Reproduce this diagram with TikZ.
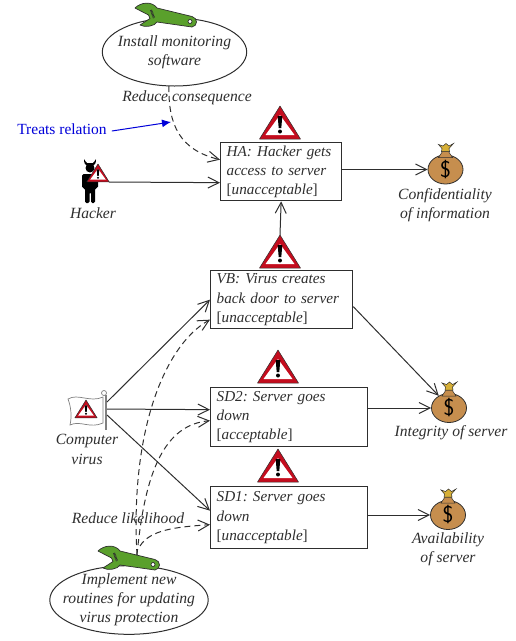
\documentclass[tikz,border=0pt]{standalone}
\usepackage{fontspec}
\setmainfont{Liberation Serif}
\usepackage{tikz}
\usetikzlibrary{arrows.meta}
\usetikzlibrary{positioning}
\usetikzlibrary{shapes.geometric}
\definecolor{inkgray}{HTML}{2E2E2E}
\definecolor{warnred}{HTML}{C40D1E}
\definecolor{bagbrown}{HTML}{C68E4E}
\definecolor{toolgreen}{HTML}{5AA02C}
\tikzset{
  lbl/.style = {font = \fontsize{15.6}{19.2}\selectfont\itshape\frenchspacing, text = inkgray, align = center, inner sep = 0},
  riskbox/.style = {draw = inkgray, line width = 1.3, anchor = north west, lbl, font = \fontsize{15.2}{19.2}\selectfont\itshape\frenchspacing, align = left, inner xsep = 6, inner ysep = 0},
  goalell/.style = {draw = inkgray, line width = 1, shape = ellipse, lbl},
  bagbody/.style = {draw = inkgray, line width = .8, fill = bagbrown, shape = ellipse, inner sep = 0, minimum width = 35, minimum height = 29, font = \sffamily\fontsize{23}{23}\selectfont, text = black},
  arr/.style = {draw = inkgray, line width = 1, -{Straight Barb[length = 11, width = 11]}},
  treat/.style = {arr, dashed, dash pattern = on 6 off 4},
  warnsign/.pic = {
    \fill [warnred, draw = inkgray, line width = .5, line join = round] (0, 0) -- (20.5, 33) -- (-20.5, 33) -- cycle;
    \fill [white] (0, 9) -- (14.5, 29) -- (-14.5, 29) -- cycle;
    \fill [black] (-2.3, 10) -- (2.3, 10) -- (1.3, 22) -- (-1.3, 22) -- cycle;
    \fill [black] (0, 25.5) circle [radius = 2];
  },
  bagtop/.pic = {
    \fill [bagbrown, draw = inkgray, line width = .5] (-7, -12) -- (-3, -18) -- (3, -18) -- (7, -12) -- cycle;
    \fill [bagbrown!70!yellow, draw = inkgray, line width = .5] (-4, -18) -- (4, -18) -- (3.5, -21) -- (8, -26) -- (3.5, -23.5) -- (.5, -26) -- (-2.5, -23.5) -- (-7, -25) -- (-3.5, -21) -- cycle;
  },
  wrench/.pic = {
    \fill [toolgreen, draw = inkgray, line width = .7, line join = round] (-12, -7) .. controls (-6, -13) and (5, -14) .. (10, -7) -- (45, 1.5) .. controls (51, 3) and (51, 11) .. (45, 12) -- (10, 7) .. controls (8, 11) and (-2, 13) .. (-7, 10) -- (3, 3.5) -- (1.5, 0) -- cycle;
    \fill [white, draw = inkgray, line width = .7] (43, 6.5) circle [radius = 2];
    \draw [inkgray, line width = 2.2, dash pattern = on .8 off .6] (4, -5) -- (7, 3);
  }
}
\begin{document}
\begin{tikzpicture}[x = 1pt, y = -1pt]
  \useasboundingbox (0, 0) rectangle (516, 641);

  % boxes
  \node [riskbox, minimum width = 121, minimum height = 58, text width = 109] (haBox) at (220, 142) {HA: Hacker gets\\access to server\\{\upshape[}unacceptable{\upshape]}};
  \node [riskbox, minimum width = 142, minimum height = 58, text width = 130] (vbBox) at (210, 270) {VB: Virus creates\\back door to server\\{\upshape[}unacceptable{\upshape]}};
  \node [riskbox, minimum width = 157, minimum height = 59, text width = 145] (sdTwo) at (210, 387) {SD2: Server goes\\down\\{\upshape[}acceptable{\upshape]}};
  \node [riskbox, minimum width = 157, minimum height = 62, text width = 145] (sdOne) at (210, 486) {SD1: Server goes\\down\\{\upshape[}unacceptable{\upshape]}};

  % warning signs
  \pic at (280, 106) {warnsign};
  \pic at (280, 235) {warnsign};
  \pic at (278, 350) {warnsign};
  \pic at (278, 449) {warnsign};
  \coordinate (warnVB) at (280, 235);

  % treatments
  \node [goalell, inner xsep = -5.5, inner ysep = 0, minimum height = 68] (topEll) at (174.5, 52) {Install monitoring\\software};
  \node [goalell, inner xsep = -10, inner ysep = -2] (lowEll) at (129, 600) {Implement new\\routines for updating\\virus protection};
  \pic at (147, 15) {wrench};
  \pic at (110, 558) {wrench};
  \coordinate (topFoot) at (169, 86);
  \coordinate (lowFoot) at (137, 555);
  \coordinate (lowSide) at (140, 546);

  % assets
  \node [bagbody] (bagConf) at (445.5, 169.5) {\$};
  \node [bagbody] (bagInt) at (449, 408) {\$};
  \node [bagbody] (bagAv) at (448, 515) {\$};
  \pic at (445.5, 169.5) {bagtop};
  \pic at (449, 408) {bagtop};
  \pic at (448, 515) {bagtop};
  \node [lbl] (confLbl) at (445, 205.5) {Confidentiality\\of information};
  \node [lbl] (intLbl) at (451, 433) {Integrity of server};
  \node [lbl] (avLbl) at (448, 549.5) {Availability\\of server};

  % hacker
  \fill [black] (84, 159) .. controls (84, 163) and (85, 165) .. (87, 166) -- (93, 166) .. controls (95, 165) and (96, 163) .. (96, 159) .. controls (95, 161) and (94, 162) .. (93, 163) -- (87, 163) .. controls (86, 162) and (85, 161) .. (84, 159) -- cycle;
  \fill [black] (90, 168) circle [radius = 4.5];
  \fill [black, rounded corners = 1.5] (82, 174) -- (98, 174) -- (98, 188) -- (95, 188) -- (95, 203) -- (91, 203) -- (91, 192) -- (89.5, 192) -- (89.5, 203) -- (85, 203) -- (85, 188) -- (82, 188) -- cycle;
  \pic [scale = .54] at (98, 164) {warnsign};
  \coordinate (hackerR) at (109, 182);
  \node [lbl] (hackerLbl) at (93, 213) {Hacker};

  % flag
  \filldraw [fill = white, draw = gray, line width = .7] (68, 399) .. controls (78, 393) and (90, 403) .. (103, 397) -- (103, 423) .. controls (90, 429) and (80, 420) .. (70, 425) .. controls (72, 416) and (71, 407) .. (68, 399) -- cycle;
  \draw [gray, line width = 1.8] (106, 395) -- (106, 430);
  \filldraw [fill = white, draw = gray, line width = .7] (104, 393) circle [radius = 2.5];
  \pic [scale = .54] at (86, 400) {warnsign};
  \coordinate (flagA) at (107, 402);
  \coordinate (flagB) at (107, 409);
  \coordinate (flagC) at (107, 415);
  \node [lbl] (flagLbl) at (87, 449.5) {Computer\\virus};

  % relations
  \draw [arr] (hackerR) -- ([yshift = -11] haBox.west);
  \draw [arr] (warnVB) -- (haBox.south);
  \draw [arr] (haBox.east |- bagConf.west) -- (bagConf.west);
  \draw [arr] ([yshift = -7] vbBox.east) -- (bagInt.130);
  \draw [arr] (sdTwo.east |- bagInt.west) -- (bagInt.west);
  \draw [arr] (sdOne.east |- bagAv.west) -- (bagAv.west);
  \draw [arr] (flagA) -- (vbBox.west);
  \draw [arr] (flagB) -- ([yshift = 7.5] sdTwo.west);
  \draw [arr] (flagC) -- ([yshift = 7] sdOne.west);
  \draw [treat] (topFoot) .. controls (168, 125) and (180, 150) .. ([yshift = 12] haBox.west);
  \draw [treat] (lowFoot) .. controls (130, 430) and (165, 345) .. ([yshift = -20] vbBox.west);
  \draw [treat] (lowFoot) .. controls (145, 470) and (165, 425) .. ([yshift = -3.5] sdTwo.west);
  \draw [treat] (lowSide) .. controls (150, 530) and (175, 527) .. ([yshift = -7] sdOne.west);

  \node [lbl] (consLbl) at (187, 98) {Reduce consequence};
  \node [lbl] (likeLbl) at (128, 518) {Reduce likelihood};

  % blue note
  \node [font = \fontsize{15.5}{19}\selectfont, text = blue!85!black, inner sep = 0] (treatsLbl) at (62, 129) {Treats relation};
  \coordinate (treatsEnd) at (171, 122);
  \draw [blue!85!black, line width = 1, -{Latex[length = 9, width = 8]}] ([xshift = 5, yshift = -2] treatsLbl.east) -- (treatsEnd);
\end{tikzpicture}
\end{document}
